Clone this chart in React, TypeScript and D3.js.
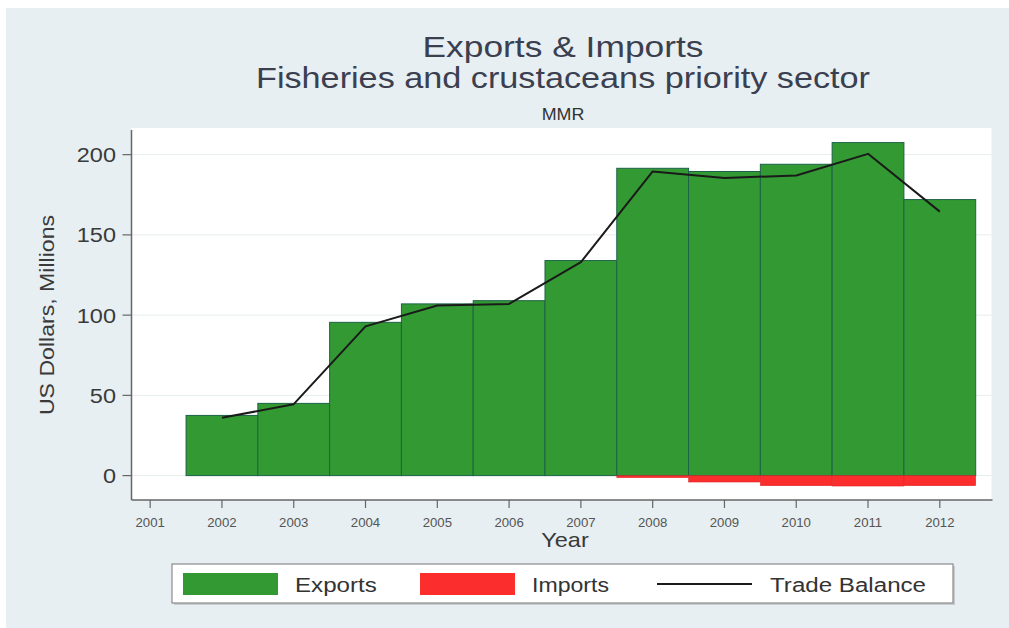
import React from "react";
import * as d3 from "d3";

const years = [2002, 2003, 2004, 2005, 2006, 2007, 2008, 2009, 2010, 2011, 2012];
const exportsVals = [37.5, 45, 95.5, 107, 109, 134, 191.5, 189.5, 194, 207.5, 172];
const importsVals = [0, 0, 0, 0, 0, 0, -1.3, -4, -6.3, -6.5, -6.3];
const tradeBalance = [36, 44.5, 93, 106, 107, 133, 189.5, 185.5, 187, 200.5, 164.5];
const xTicks = [2001, 2002, 2003, 2004, 2005, 2006, 2007, 2008, 2009, 2010, 2011, 2012];
const yTicks = [0, 50, 100, 150, 200];

const W = 1009;
const H = 628;
const plot = { left: 131.5, right: 991.5, top: 128, bottom: 500 };

const FONT = "'Liberation Sans', Arial, Helvetica, sans-serif";

function SText({ x, y, sx = 1.15, size, anchor = "middle", fill = "#333", children, rotate = 0 }: any) {
  return (
    <g transform={`translate(${x},${y}) rotate(${rotate}) scale(${sx},1)`}>
      <text x={0} y={0} fontSize={size} fontFamily={FONT} textAnchor={anchor} fill={fill}>
        {children}
      </text>
    </g>
  );
}

export default function App() {
  const x = d3.scaleLinear().domain([2000.74, 2012.72]).range([plot.left, plot.right]);
  const y = d3.scaleLinear().domain([-15.2, 216.6]).range([plot.bottom, plot.top]);
  const line = d3
    .line<number>()
    .x((_, i) => x(years[i]))
    .y((d) => y(d));

  const green = "#339a33";
  const greenEdge = "#1d6248";
  const red = "#fb2d2d";
  const titleCol = "#3b4050";

  return (
    <svg width={W} height={H} style={{ position: "absolute", left: 0, top: 0, background: "#fff" }}>
      <rect x={6} y={8} width={W - 6} height={H - 8} fill="#e7eff2" />
      <rect x={plot.left} y={plot.top} width={plot.right - plot.left} height={plot.bottom - plot.top} fill="#ffffff" />

      {/* grid */}
      {yTicks.map((t) => (
        <line key={"g" + t} x1={plot.left} x2={plot.right} y1={y(t)} y2={y(t)} stroke="#e6eced" strokeWidth={1} />
      ))}

      {/* bars: exports */}
      {years.map((yr, i) => (
        <rect
          key={"e" + yr}
          x={x(yr - 0.5)}
          y={y(exportsVals[i])}
          width={x(yr + 0.5) - x(yr - 0.5)}
          height={y(0) - y(exportsVals[i])}
          fill={green}
          stroke={greenEdge}
          strokeWidth={1}
        />
      ))}
      {/* bars: imports */}
      {years.map((yr, i) =>
        importsVals[i] < 0 ? (
          <rect
            key={"i" + yr}
            x={x(yr - 0.5)}
            y={y(0)}
            width={x(yr + 0.5) - x(yr - 0.5)}
            height={y(importsVals[i]) - y(0)}
            fill={red}
            stroke="#d82424"
            strokeWidth={0.5}
          />
        ) : null
      )}

      {/* trade balance */}
      <path d={line(tradeBalance) || ""} fill="none" stroke="#1a1a1a" strokeWidth={2} strokeLinejoin="round" />

      {/* axes */}
      <line x1={plot.left} x2={plot.left} y1={plot.top + 2} y2={plot.bottom} stroke="#666" strokeWidth={1.5} />
      <line x1={plot.left} x2={plot.right + 1} y1={plot.bottom} y2={plot.bottom} stroke="#666" strokeWidth={1.5} />
      {yTicks.map((t) => (
        <g key={"yt" + t}>
          <line x1={plot.left - 9} x2={plot.left} y1={y(t)} y2={y(t)} stroke="#666" strokeWidth={1.2} />
          <SText x={116} y={y(t) + 7.5} size={21} sx={1.12} anchor="end" fill="#3a3a3a">
            {t}
          </SText>
        </g>
      ))}
      {xTicks.map((t) => (
        <g key={"xt" + t}>
          <line x1={x(t)} x2={x(t)} y1={plot.bottom} y2={plot.bottom + 8} stroke="#666" strokeWidth={1.2} />
          <SText x={x(t)} y={527} size={12} sx={1.1} fill="#555">
            {t}
          </SText>
        </g>
      ))}

      <SText x={565} y={547} size={21} sx={1.12} fill="#3a3a3a">
        Year
      </SText>
      <SText x={54} y={315} size={21} sx={1.1} rotate={-90} fill="#3a3a3a">
        US Dollars, Millions
      </SText>

      {/* titles */}
      <SText x={563} y={57} size={29} sx={1.22} fill={titleCol}>
        Exports &amp; Imports
      </SText>
      <SText x={563} y={88} size={29} sx={1.18} fill={titleCol}>
        Fisheries and crustaceans priority sector
      </SText>
      <SText x={563} y={120} size={17} sx={1.05} fill="#333">
        MMR
      </SText>

      {/* legend */}
      <rect x={174} y={566} width={781} height={39} fill="#c8cccf" />
      <rect x={172} y={564} width={781} height={39} fill="#ffffff" stroke="#8a8a8a" strokeWidth={1.2} />
      <rect x={183} y={573} width={95} height={22} fill={green} />
      <SText x={295} y={592} size={21} sx={1.15} anchor="start" fill="#333">
        Exports
      </SText>
      <rect x={420} y={573} width={95} height={22} fill={red} />
      <SText x={532} y={592} size={21} sx={1.1} anchor="start" fill="#333">
        Imports
      </SText>
      <line x1={657} x2={752} y1={584} y2={584} stroke="#1a1a1a" strokeWidth={2} />
      <SText x={770} y={592} size={21} sx={1.15} anchor="start" fill="#333">
        Trade Balance
      </SText>
    </svg>
  );
}
